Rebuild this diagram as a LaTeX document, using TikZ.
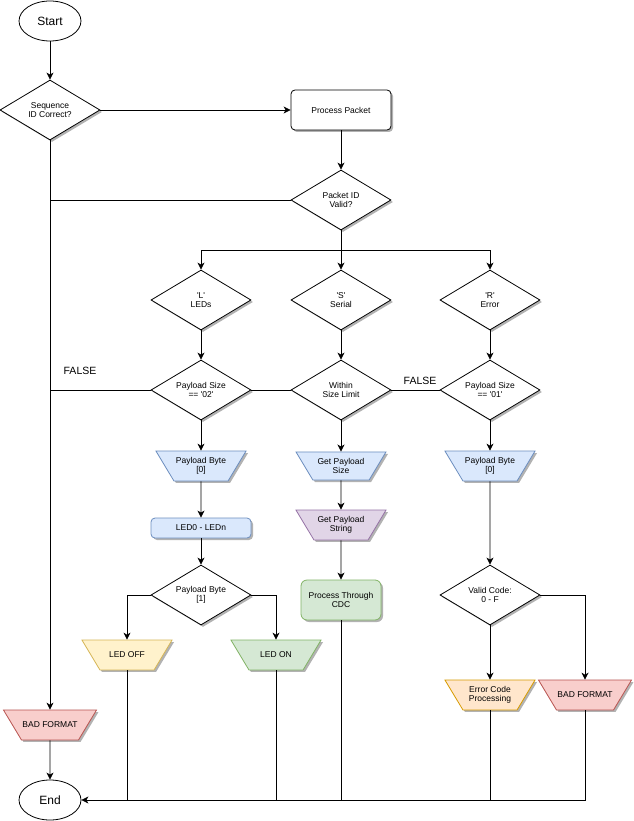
\documentclass[tikz,border=0pt]{standalone}
\usepackage{fontspec}
\setmainfont{Liberation Sans}
\usetikzlibrary{arrows.meta, shapes.geometric, positioning, shadows}
\definecolor{blueFill}{HTML}{DAE8FC}
\definecolor{blueLine}{HTML}{6C8EBF}
\definecolor{purpleFill}{HTML}{E1D5E7}
\definecolor{purpleLine}{HTML}{9673A6}
\definecolor{greenFill}{HTML}{D5E8D4}
\definecolor{greenLine}{HTML}{82B366}
\definecolor{yellowFill}{HTML}{FFF2CC}
\definecolor{yellowLine}{HTML}{D6B656}
\definecolor{orangeFill}{HTML}{FFE6CC}
\definecolor{orangeLine}{HTML}{D79B00}
\definecolor{redFill}{HTML}{F8CECC}
\definecolor{redLine}{HTML}{B85450}
\newcommand{\boxfont}{\fontsize{8.5}{9.5}\selectfont}
\newcommand{\sq}{\textquotesingle}

\begin{document}
\begin{tikzpicture}[
    x=1pt, y=-1pt,
    dshadow/.style={drop shadow={shadow xshift=2pt, shadow yshift=-2pt,
                    opacity=0.3, fill=black}},
    term/.style={ellipse, draw, line width=0.8pt, fill=white,
                 minimum width=62pt, minimum height=40pt, inner sep=0pt,
                 font=\fontsize{12}{14}\selectfont},
    decide/.style={diamond, draw, line width=0.8pt, fill=white, aspect=1.667,
                   minimum width=100pt, minimum height=60pt, inner sep=0pt,
                   align=center, font=\boxfont, dshadow},
    proc/.style={rectangle, draw, line width=0.8pt, fill=white,
                 rounded corners=4pt, minimum width=100pt,
                 minimum height=40pt, align=center, font=\boxfont, dshadow},
    io/.style 2 args={trapezium, trapezium left angle=121,
                      trapezium right angle=121, trapezium stretches body,
                      minimum width=90pt, inner xsep=1pt, inner ysep=6.2pt,
                      draw=#2, fill=#1, line width=0.8pt,
                      align=center, font=\boxfont, dshadow},
    oneline/.style={inner ysep=11.9pt},
    flag/.style={font=\fontsize{10.5}{12}\selectfont},
    wire/.style={line width=0.8pt},
    arr/.style={-{Stealth[length=7pt, width=7pt, inset=2pt]}, line width=0.8pt}
  ]
  \path[use as bounding box, fill=white] (0,0) rectangle (633,821);

  % main column
  \node[term]   (start) at (50,21)   {Start};
  \node[decide] (seq)   at (50,110)  {Sequence\\ID Correct?};
  \node[proc]   (pkt)   at (341,110) {Process Packet};
  \node[decide] (pid)   at (341,200) {Packet ID\\Valid?};

  % packet types
  \node[decide] (led) at (201,300) {\sq L\sq\\LEDs};
  \node[decide] (ser) at (341,300) {\sq S\sq\\Serial};
  \node[decide] (err) at (490,300) {\sq R\sq\\Error};

  \node[decide] (szl) at (201,390) {Payload Size\\== \sq 02\sq};
  \node[decide] (szs) at (341,390) {Within\\Size Limit};
  \node[decide] (szr) at (490,390) {Payload Size\\== \sq 01\sq};
  \node[flag] (fl1) at (80,371)  {FALSE};
  \node[flag] (fl2) at (420,381) {FALSE};

  \node[io={blueFill}{blueLine}] (b0l) at (201,466) {Payload Byte\\{[0]}};
  \node[io={blueFill}{blueLine}] (gsz) at (341,466) {Get Payload\\Size};
  \node[io={blueFill}{blueLine}] (b0r) at (490,466) {Payload Byte\\{[0]}};

  \node[proc, fill=blueFill, draw=blueLine, minimum height=20pt]
    (leds) at (201,528) {LED0 - LEDn};
  \node[io={purpleFill}{purpleLine}] (gstr) at (341,525) {Get Payload\\String};

  \node[decide] (b1) at (201,595) {Payload Byte\\{[1]}};
  \node[proc, fill=greenFill, draw=greenLine, minimum width=80pt,
        rounded corners=6pt] (cdc) at (341,600) {Process Through\\CDC};
  \node[decide] (vc) at (490,595) {Valid Code:\\0 - F};

  \node[io={yellowFill}{yellowLine}, oneline] (off)  at (127,655) {LED OFF};
  \node[io={greenFill}{greenLine}, oneline]   (on)   at (276,655) {LED ON};
  \node[io={orangeFill}{orangeLine}] (ecp)  at (490,695) {Error Code\\Processing};
  \node[io={redFill}{redLine}, oneline] (badr) at (585,695) {BAD FORMAT};
  \node[io={redFill}{redLine}, oneline] (badl) at (50,725)  {BAD FORMAT};
  \node[term] (end) at (50,800) {End};

  % connectors
  \draw[arr] (start) -- (seq);
  \draw[arr] (seq) -- (pkt);
  \draw[arr] (pkt) -- (pid);
  \draw[wire] (pid.west) -- (pid.west -| seq);
  \draw[arr] (seq) -- (badl);

  \coordinate (fork) at (341,250);
  \draw[wire] (pid) -- (fork);
  \draw[arr] (fork) -| (led);
  \draw[arr] (fork) -- (ser);
  \draw[arr] (fork) -| (err);

  \draw[arr] (led) -- (szl);
  \draw[arr] (ser) -- (szs);
  \draw[arr] (err) -- (szr);
  \draw[wire] (szl.west) -- (szl.west -| seq);
  \draw[wire] (szs) -- (szl);
  \draw[wire] (szr) -- (szs);

  \draw[arr] (szl) -- (b0l);
  \draw[arr] (szs) -- (gsz);
  \draw[arr] (szr) -- (b0r);
  \draw[arr] (b0l) -- (leds);
  \draw[arr] (leds) -- (b1);
  \draw[arr] (gsz) -- (gstr);
  \draw[arr] (gstr) -- (cdc);
  \draw[arr] (b0r) -- (vc);

  \draw[arr] (b1.west) -| (off);
  \draw[arr] (b1.east) -| (on);
  \draw[arr] (vc) -- (ecp);
  \draw[arr] (vc.east) -| (badr);

  \draw[arr] (badl) -- (end);
  \draw[arr] (badr) |- (end);
  \draw[wire] (off) -- (off |- end);
  \draw[wire] (on) -- (on |- end);
  \draw[wire] (cdc) -- (cdc |- end);
  \draw[wire] (ecp) -- (ecp |- end);
\end{tikzpicture}
\end{document}
